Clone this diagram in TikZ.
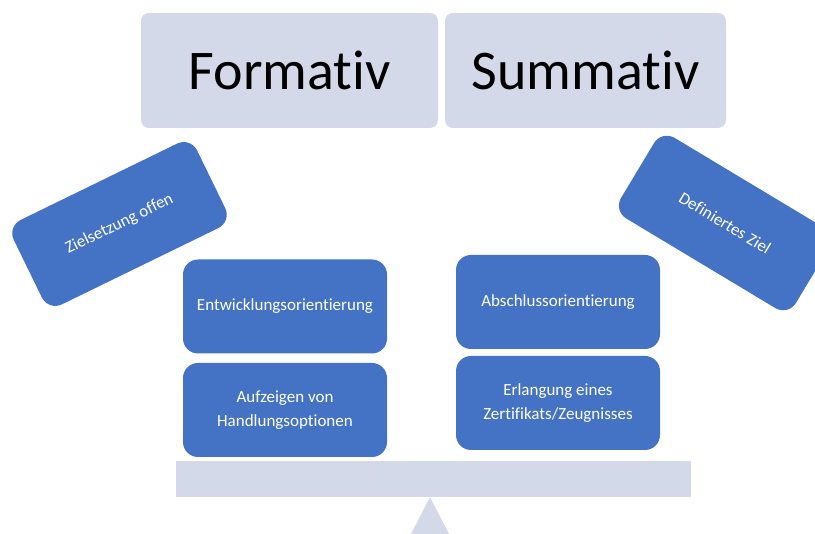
\documentclass[tikz,border=0pt]{standalone}
\usepackage{fontspec}
\setmainfont{Carlito}[Ligatures=NoCommon]
\usepackage{tikz}
\usetikzlibrary{positioning}
\definecolor{evblue}{HTML}{4472C4}
\definecolor{evpale}{HTML}{D4D9EA}
\tikzset{
  headbox/.style={fill=evpale, draw=none, rounded corners=8pt, minimum height=115pt, inner sep=0pt, font=\fontsize{56}{60}\selectfont},
  itembox/.style={fill=evblue, draw=none, rounded corners=15pt, minimum width=204pt, minimum height=94pt, inner sep=0pt, text=white, align=center, font=\fontsize{17}{24}\selectfont},
}

\begin{document}
\begin{tikzpicture}[x=1pt,y=-1pt]
  \useasboundingbox (0,0) rectangle (815,534);
  % heads
  \node[headbox, minimum width=297pt] (formativ) at (289.5,70.5) {Formativ};
  \node[headbox, minimum width=281pt] (summativ) at (585.5,70.5) {Summativ};
  % balance
  \fill[evpale] (176,461) rectangle (691,497);
  \fill[evpale] (430,497) -- (449,534) -- (411,534) -- cycle;
  % left pan
  \node[itembox] (entw) at (285,306.5) {Entwicklungsorientierung};
  \node[itembox] (aufz) at (285,410) {Aufzeigen von\\Handlungsoptionen};
  % right pan
  \node[itembox] (absch) at (558,302) {Abschlussorientierung};
  \node[itembox] (erlang) at (558,403) {Erlangung eines\\Zertifikats/Zeugnisses};
  % tilted goals
  \node[itembox, rotate=26] (offen) at (119.5,224) {Zielsetzung offen};
  \begin{scope}
    \clip (0,0) rectangle (815,534);
    \node[itembox, rotate=-31] (ziel) at (725,223) {Definiertes Ziel};
  \end{scope}
\end{tikzpicture}
\end{document}
